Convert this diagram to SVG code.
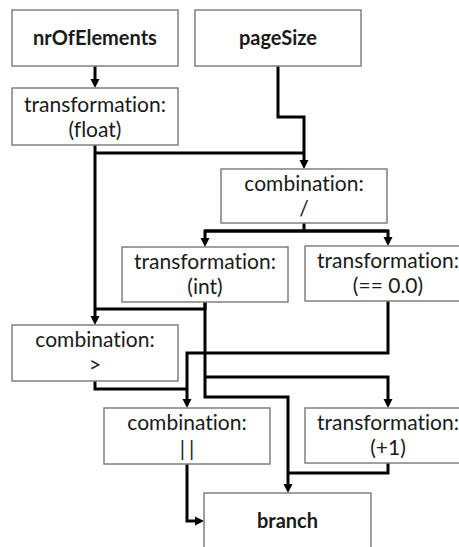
<svg xmlns="http://www.w3.org/2000/svg" width="459" height="547" viewBox="0 0 459 547">
<style>
.box{fill:#fff;stroke:#808080;stroke-width:1.5}
.t{font-family:Lato,"Liberation Sans",sans-serif;font-size:21px;fill:#1a1a1a;text-anchor:middle;font-variant-ligatures:none}
.b{font-weight:bold;font-size:20px}
.c{fill:none;stroke:#000;stroke-width:3}
</style>
<defs>
<marker id="ah" markerUnits="userSpaceOnUse" markerWidth="10" markerHeight="10" refX="0" refY="4.5" orient="auto" overflow="visible">
<path d="M0,0 L9,4.5 L0,9 z" fill="#000"/>
</marker>
</defs>
<rect width="459" height="547" fill="#fff"/>
<g id="connectors">
<path class="c" d="M95,66 V79" marker-end="url(#ah)"/>
<path class="c" d="M95,145 V316" marker-end="url(#ah)"/>
<path class="c" d="M95,153 H304"/>
<path class="c" d="M278,66 V117 H304 V160" marker-end="url(#ah)"/>
<path class="c" d="M304,223 V231"/>
<path class="c" d="M388,231 H205 V238" marker-end="url(#ah)"/>
<path class="c" d="M205,231 H388 V237" marker-end="url(#ah)"/>
<path class="c" d="M205,302 V309 H95"/>
<path class="c" d="M205,302 V397 H288 V484" marker-end="url(#ah)"/>
<path class="c" d="M205,377 H388 V399" marker-end="url(#ah)"/>
<path class="c" d="M388,301 V353 H187 V399" marker-end="url(#ah)"/>
<path class="c" d="M95,381 V389 H187"/>
<path class="c" d="M187,464 V521 H195" marker-end="url(#ah)"/>
<path class="c" d="M388,463 V473 H288"/>
</g>
<g id="nrOfElements">
<rect class="box" x="12" y="10" width="166" height="56"/>
<text class="t b" x="95" y="45">nrOfElements</text>
</g>
<g id="pageSize">
<rect class="box" x="195" y="10" width="166" height="56"/>
<text class="t b" x="278" y="45">pageSize</text>
</g>
<g id="transformFloat">
<rect class="box" x="12" y="88" width="166" height="57"/>
<text class="t" x="95" y="112">transformation:</text>
<text class="t" x="95" y="137">(float)</text>
</g>
<g id="combinationDiv">
<rect class="box" x="221" y="169" width="166" height="54"/>
<text class="t" x="304" y="191">combination:</text>
<text class="t" x="304" y="216">/</text>
</g>
<g id="transformInt">
<rect class="box" x="122" y="247" width="166" height="55"/>
<text class="t" x="205" y="269">transformation:</text>
<text class="t" x="205" y="294">(int)</text>
</g>
<g id="transformEq">
<rect class="box" x="305" y="246" width="166" height="55"/>
<text class="t" x="388" y="268">transformation:</text>
<text class="t" x="388" y="293">(== 0.0)</text>
</g>
<g id="combinationGt">
<rect class="box" x="12" y="325" width="166" height="56"/>
<text class="t" x="95" y="347">combination:</text>
<text class="t" x="95" y="372">&gt;</text>
</g>
<g id="combinationOr">
<rect class="box" x="104" y="408" width="166" height="56"/>
<text class="t" x="187" y="430">combination:</text>
<text class="t" x="187" y="456" letter-spacing="4" dx="2">||</text>
</g>
<g id="transformPlus1">
<rect class="box" x="305" y="408" width="166" height="55"/>
<text class="t" x="388" y="430">transformation:</text>
<text class="t" x="388" y="455">(+1)</text>
</g>
<g id="branch">
<rect class="box" x="204" y="493" width="167" height="70"/>
<text class="t b" x="287.5" y="528">branch</text>
</g>
</svg>
